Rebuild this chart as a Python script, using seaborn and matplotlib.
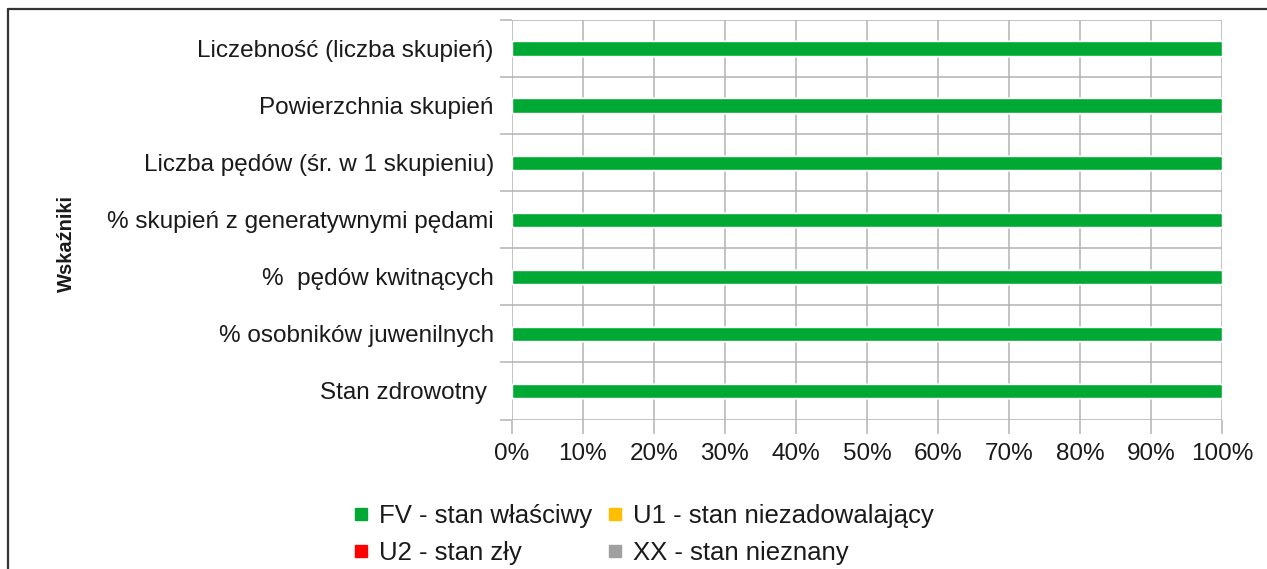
import pandas as pd
import matplotlib
matplotlib.use("Agg")
import matplotlib.pyplot as plt
from matplotlib.lines import Line2D
import seaborn as sns

# Data
categories = [
    "Liczebność (liczba skupień)",
    "Powierzchnia skupień",
    "Liczba pędów (śr. w 1 skupieniu)",
    "% skupień z generatywnymi pędami",
    "%  pędów kwitnących",
    "% osobników juwenilnych",
    "Stan zdrowotny ",
]
fv = [100, 100, 100, 100, 100, 100, 100]
u1 = [0, 0, 0, 0, 0, 0, 0]
u2 = [0, 0, 0, 0, 0, 0, 0]
xx = [0, 0, 0, 0, 0, 0, 0]

series_names = ["FV - stan właściwy", "U1 - stan niezadowalający",
                "U2 - stan zły", "XX - stan nieznany"]
series_colors = ["#00a933", "#ffbf00", "#ff0000", "#a0a0a0"]

df = pd.DataFrame({"cat": categories, "FV": fv, "U1": u1, "U2": u2, "XX": xx})
# cumulative sums for stacking (draw the longest first)
df["c1"] = df["FV"]
df["c2"] = df["c1"] + df["U1"]
df["c3"] = df["c2"] + df["U2"]
df["c4"] = df["c3"] + df["XX"]

sns.set_style("white")
plt.rcParams["font.family"] = ["Liberation Sans", "DejaVu Sans"]

fig = plt.figure(figsize=(12.67, 5.69), dpi=100)
ax = fig.add_axes([0.404, 0.2627, 0.5605, 0.7022])

for col, color in zip(["c4", "c3", "c2", "c1"], series_colors[::-1]):
    sns.barplot(data=df, x=col, y="cat", orient="h", color=color,
                width=0.25, saturation=1, ax=ax, zorder=3)

ax.set_xlim(0, 100)
ax.set_ylim(len(categories) - 0.5, -0.5)
ax.set_xticks(range(0, 101, 10))
ax.set_xticklabels([f"{v}%" for v in range(0, 101, 10)])
ax.set_yticks(range(len(categories)))
ax.set_yticklabels(categories)
ax.set_yticks([i - 0.5 for i in range(len(categories) + 1)], minor=True)

fs = 17.5
grid_color = "#b3b3b3"
ax.grid(True, axis="x", color=grid_color, linewidth=1.1, zorder=0)
ax.grid(True, axis="y", which="minor", color=grid_color, linewidth=1.1, zorder=0)
ax.grid(False, axis="y", which="major")
ax.tick_params(axis="y", which="major", length=0, pad=13, labelsize=fs, labelcolor="#1a1a1a")
ax.tick_params(axis="y", which="minor", length=9, width=1.1, color=grid_color, left=True)
ax.tick_params(axis="x", length=10, width=1.1, color=grid_color, pad=7, labelsize=fs,
               labelcolor="#1a1a1a", bottom=True)
for s in ax.spines.values():
    s.set_visible(False)

ax.set_xlabel("")
ax.set_ylabel("")
fig.text(66 / 1267, 1 - 244 / 569, "Wskaźniki", rotation=90, fontsize=14.5,
         fontweight="bold", color="#1a1a1a", ha="center", va="center")

# legend filled row by row: FV, U1 / U2, XX
order = [0, 2, 1, 3]
handles = [Line2D([], [], marker="s", linestyle="", markersize=8,
                  markerfacecolor=series_colors[i], markeredgecolor=series_colors[i])
           for i in order]
fig.legend(handles, [series_names[i] for i in order], loc="center", ncol=2,
           frameon=False, bbox_to_anchor=(0.508, 0.060), fontsize=18.5,
           handlelength=0.6, handletextpad=0.4, columnspacing=0.6,
           labelspacing=0.5, labelcolor="#1a1a1a")

# outer frame (top and left edges visible)
fig.add_artist(Line2D([0.0063, 1.0], [0.984, 0.984], color="#333333", linewidth=1.6,
                      transform=fig.transFigure))
fig.add_artist(Line2D([0.0063, 0.0063], [0.0, 0.984], color="#333333", linewidth=1.6,
                      transform=fig.transFigure))

fig.savefig("out.png", dpi=100)
